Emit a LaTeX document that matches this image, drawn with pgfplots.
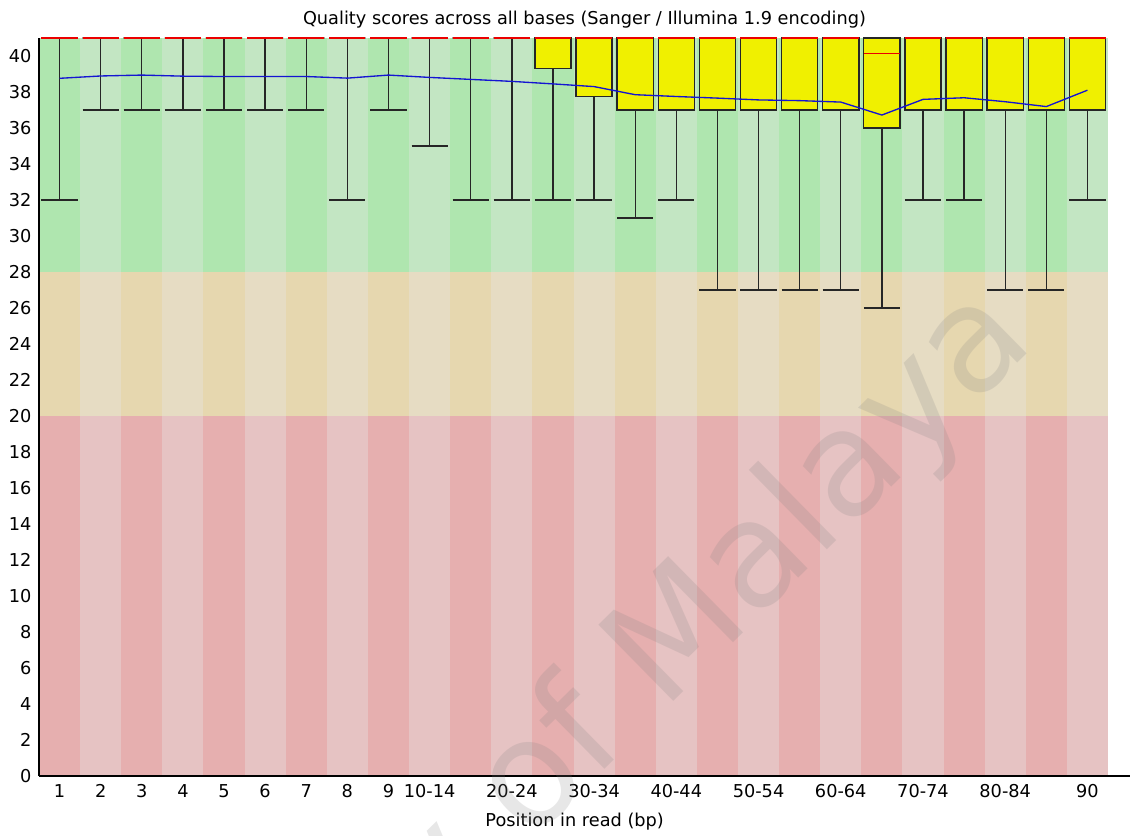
\documentclass[border=0pt]{standalone}
\usepackage{fontspec}
\setmainfont{DejaVu Sans}
\usepackage{pgfplots}
\usepackage{pgfplotstable}
\pgfplotsset{compat=1.18}
\usepgfplotslibrary{statistics}
\definecolor{gdark}{RGB}{175,230,175}
\definecolor{glight}{RGB}{195,230,195}
\definecolor{odark}{RGB}{230,215,175}
\definecolor{olight}{RGB}{230,220,195}
\definecolor{rdark}{RGB}{230,175,175}
\definecolor{rlight}{RGB}{230,195,195}
\definecolor{qyellow}{RGB}{240,240,0}
\definecolor{meanblue}{RGB}{20,20,210}
\definecolor{medred}{RGB}{235,0,0}
% mean quality per position
\pgfplotstableread{
pos mean
0 38.76
1 38.89
2 38.94
3 38.88
4 38.86
5 38.86
6 38.86
7 38.77
8 38.94
9 38.81
10 38.70
11 38.59
12 38.45
13 38.30
14 37.85
15 37.75
16 37.66
17 37.56
18 37.52
19 37.44
20 36.72
21 37.59
22 37.68
23 37.46
24 37.19
25 38.10
}\meandata
\pgfplotsset{
  boxplot/every median/.style={draw=medred, line width=1pt},
  qbox/.style={draw=black!85, fill=qyellow, line width=1pt, mark=none, solid,
    boxplot/draw direction=y,
    boxplot/box extend=0.88, boxplot/whisker extend=0.88,
    boxplot/draw/median/.code={%
      \draw[medred, line width=1pt]
        (boxplot box cs:\pgfplotsboxplotvalue{median},0) --
        (boxplot box cs:\pgfplotsboxplotvalue{median},1);}},
}
% position, lower whisker, lower quartile, median, upper quartile, upper whisker
\newcommand{\qb}[6]{\addplot[qbox, boxplot prepared={draw direction=y, draw position=#1,
  lower whisker=#2, lower quartile=#3, median=#4, upper quartile=#5, upper whisker=#6}] coordinates {};}
\begin{document}
\begin{tikzpicture}
\path[use as bounding box] (-29.25pt,-44.25pt) rectangle (821.25pt,582pt);
\begin{axis}[
  at={(0pt,0pt)}, anchor=south west, scale only axis,
  width=818.25pt, height=553.5pt,
  xmin=-0.5, xmax=26.035, ymin=0, ymax=41,
  clip=false, axis on top,
  axis x line=bottom, axis y line=left,
  axis line style={-, line width=0.8pt, black},
  x axis line style={-}, y axis line style={-},
  tick style={draw=none},
  xtick={0,...,25},
  xticklabels={1,2,3,4,5,6,7,8,9,10-14,,20-24,,30-34,,40-44,,50-54,,60-64,,70-74,,80-84,,90},
  ytick={0,2,...,40},
  ticklabel style={font=\fontsize{13.3}{15}\selectfont},
  xticklabel style={anchor=base, yshift=-13.85pt},
  /pgf/number format/assume math mode=true,
  title={Quality scores across all bases (Sanger / Illumina 1.9 encoding)},
  title style={font=\fontsize{13.3}{15}\selectfont, at={(axis description cs:0.5,1)}, anchor=base, yshift=3.75pt},
  xlabel={Position in read (bp)},
  xlabel style={font=\fontsize{13.3}{15}\selectfont, at={(axis description cs:0.491,0)}, anchor=base, yshift=-37.5pt},
]
% background bands
\fill[glight] (axis cs:-0.5,28) rectangle (axis cs:25.5,41);
\fill[olight] (axis cs:-0.5,20) rectangle (axis cs:25.5,28);
\fill[rlight] (axis cs:-0.5,0) rectangle (axis cs:25.5,20);
\pgfplotsinvokeforeach{0,2,...,24}{
  \fill[gdark] (axis cs:#1-0.5,28) rectangle (axis cs:#1+0.5,41);
  \fill[odark] (axis cs:#1-0.5,20) rectangle (axis cs:#1+0.5,28);
  \fill[rdark] (axis cs:#1-0.5,0) rectangle (axis cs:#1+0.5,20);
}
\qb{0}{32}{41}{41}{41}{41}
\qb{1}{37}{41}{41}{41}{41}
\qb{2}{37}{41}{41}{41}{41}
\qb{3}{37}{41}{41}{41}{41}
\qb{4}{37}{41}{41}{41}{41}
\qb{5}{37}{41}{41}{41}{41}
\qb{6}{37}{41}{41}{41}{41}
\qb{7}{32}{41}{41}{41}{41}
\qb{8}{37}{41}{41}{41}{41}
\qb{9}{35}{41}{41}{41}{41}
\qb{10}{32}{41}{41}{41}{41}
\qb{11}{32}{41}{41}{41}{41}
\qb{12}{32}{39.32}{41}{41}{41}
\qb{13}{32}{37.76}{41}{41}{41}
\qb{14}{31}{37}{41}{41}{41}
\qb{15}{32}{37}{41}{41}{41}
\qb{16}{27}{37}{41}{41}{41}
\qb{17}{27}{37}{41}{41}{41}
\qb{18}{27}{37}{41}{41}{41}
\qb{19}{27}{37}{41}{41}{41}
\qb{20}{26}{36}{40.13}{41}{41}
\qb{21}{32}{37}{41}{41}{41}
\qb{22}{32}{37}{41}{41}{41}
\qb{23}{27}{37}{41}{41}{41}
\qb{24}{27}{37}{41}{41}{41}
\qb{25}{32}{37}{41}{41}{41}
% median of position 65-69 (inside its box)
\addplot[medred, line width=1pt, mark=none] coordinates {(19.56,40.13) (20.44,40.13)};
\addplot[meanblue, line width=1pt, mark=none] table[x=pos, y=mean]{\meandata};
\end{axis}
\node[overlay, rotate=44.5, anchor=base east, font=\fontsize{110}{125}\selectfont,
  text=black!50, text opacity=0.19] at (751pt,326pt) {University of Malaya};
\end{tikzpicture}
\end{document}
